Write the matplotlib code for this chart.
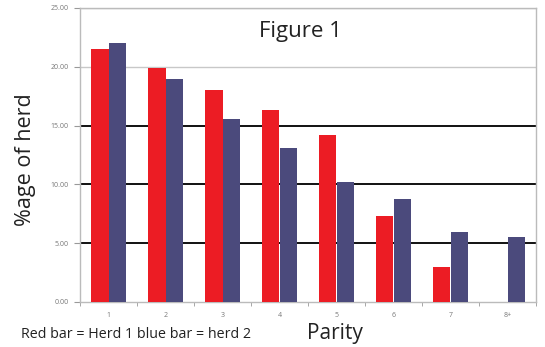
import numpy as np
import matplotlib.pyplot as plt

plt.rcParams['font.family'] = ['Open Sans', 'DejaVu Sans']

parity = ['1', '2', '3', '4', '5', '6', '7', '8+']
herd1 = [21.55, 19.9, 18.05, 16.3, 14.2, 7.35, 2.95, 0.0]
herd2 = [22.05, 19.0, 15.6, 13.1, 10.2, 8.8, 5.95, 5.5]
yticks = [0, 5, 10, 15, 20, 25]

fig = plt.figure(figsize=(5.45, 3.47), dpi=100)
ax = fig.add_axes([80/545, 1 - 302/347, 456/545, 294/347])

x = np.arange(len(parity))
w = 0.3
ax.bar(x - w/2, herd1, width=w, color='#ec1c24', zorder=3)
ax.bar(x + w/2, herd2, width=w, color='#4b4a7c', zorder=3)

# horizontal rules: the darker ones at 5, 10, 15
for v in yticks[1:]:
    col = '#111111' if v in (5, 10, 15) else '#c8c8c8'
    lw = 1.4 if v in (5, 10, 15) else 1.0
    ax.axhline(v, color=col, lw=lw, zorder=1)

ax.set_xlim(-0.5, len(parity) - 0.5)
ax.set_ylim(0, 25)
ax.set_yticks(yticks)
ax.set_yticklabels(['%.2f' % v for v in yticks], fontsize=5, color='#777777')
ax.set_xticks(x)
ax.set_xticklabels(parity, fontsize=5, color='#777777')
ax.set_xticks(np.arange(len(parity) + 1) - 0.5, minor=True)
ax.tick_params(axis='x', which='major', length=0, pad=7)
ax.tick_params(axis='x', which='minor', length=3, color='#999999')
ax.tick_params(axis='y', length=4, color='#999999', pad=4)

for s in ax.spines.values():
    s.set_color('#bbbbbb')
    s.set_linewidth(1.0)

fig.text(300/545, 1 - 32/347, 'Figure 1', ha='center', va='center',
         fontsize=16, color='#222222')
fig.text(26/545, 1 - 160/347, '%age of herd', rotation=90, ha='center', va='center',
         fontsize=15.5, color='#222222')
fig.text(335/545, 1 - 334/347, 'Parity', ha='center', va='center', fontsize=15, color='#222222')
fig.text(21/545, 1 - 334/347, 'Red bar = Herd 1 blue bar = herd 2', ha='left', va='center',
         fontsize=10.3, color='#222222')

fig.savefig('out.png', dpi=100)
